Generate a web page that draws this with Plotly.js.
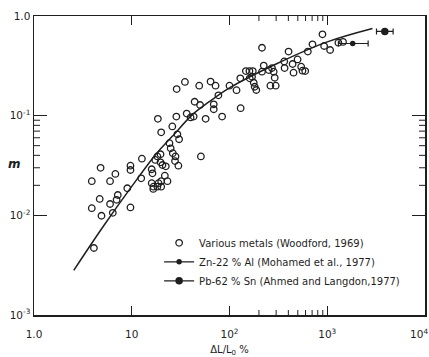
<!DOCTYPE html>
<html>
<head>
<meta charset="utf-8">
<script src="https://cdn.plot.ly/plotly-3.0.1.min.js"></script>
<style>html,body{margin:0;padding:0;background:#fff;}#chart{width:429px;height:357px;}</style>
</head>
<body>
<div id="chart"></div>
<script>
// Various metals (Woodford, 1969)
var metalsX = [3.9,4.8,3.9,4.7,4.9,4.1,6.0,6.8,6.0,6.4,7.0,7.2,9.0,9.7,9.7,9.7,12.7,12.5,16,16.3,16,16.6,17.4,18.5,20,19.7,18.3,19.7,20.6,22.3,21.8,23.2,20,18.3,20,16.7,18.8,26,28.6,24.3,25,26.3,28,27.7,30,29.3,30.5,28.8,35,36.5,40,43,44,49,50,57,51,64,72,69,69,77,84,100,118,129,130,147,160,161,173,170,177,181,188,215,224,215,252,272,283,290,262,297,363,402,366,442,452,497,541,558,595,633,706,893,929,1070,1300,1450];
var metalsY = [0.022,0.030,0.0118,0.0146,0.0099,0.0047,0.022,0.026,0.013,0.0106,0.0143,0.016,0.0187,0.012,0.0315,0.0285,0.037,0.0235,0.029,0.0264,0.021,0.0184,0.036,0.093,0.068,0.041,0.039,0.034,0.032,0.031,0.025,0.022,0.022,0.0194,0.0194,0.0194,0.021,0.078,0.098,0.053,0.047,0.042,0.039,0.035,0.0315,0.065,0.058,0.185,0.218,0.105,0.096,0.098,0.138,0.2,0.128,0.093,0.039,0.22,0.2,0.13,0.116,0.16,0.098,0.2,0.18,0.237,0.119,0.28,0.28,0.237,0.28,0.246,0.214,0.195,0.181,0.48,0.318,0.276,0.287,0.30,0.276,0.24,0.2,0.2,0.35,0.44,0.30,0.33,0.27,0.367,0.31,0.283,0.28,0.44,0.52,0.655,0.50,0.456,0.54,0.55];

// Zn-22% Al (Mohamed et al., 1977)
var znX = [1820];
var znY = [0.53];
var znErrPlus = [800];
var znErrMinus = [520];

// Pb-62% Sn (Ahmed and Langdon, 1977)
var pbX = [3880];
var pbY = [0.70];
var pbErrPlus = [840];
var pbErrMinus = [690];

// Trend curve
var curveX = [2.55,5,10,18,26,42,62,100,300,1000,2900];
var curveY = [0.0028,0.0075,0.0195,0.042,0.062,0.103,0.138,0.19,0.33,0.55,0.75];

// Tick labels (the last one, at the right edge, is placed as a right-aligned label)
var xTickVals = [1,10,100,1000,10000];
var xTickText = ['1.0','10','10<sup>2</sup>','10<sup>3</sup>',''];
var xEdgeLabel = '10<sup>4</sup>';
var xMinorVals = [200,300,400,500,600,700,800,900];
var yTickVals = [0.001,0.01,0.1,1];
var yTickText = ['10<sup>-3</sup>','10<sup>-2</sup>','10<sup>-1</sup>','1.0'];
var yMinorVals = [0.02,0.03,0.04,0.05,0.06,0.07,0.08,0.09];

var ink = '#1e1e1e';
var fontFam = 'DejaVu Sans, sans-serif';

var W = 429, H = 357;
var M = {l: 34, r: 4, t: 16, b: 42};
var plotW = W - M.l - M.r, plotH = H - M.t - M.b;

var traces = [
  {x: curveX, y: curveY, mode: 'lines', line: {color: ink, width: 1.5, shape: 'spline', smoothing: 1}, showlegend: false, hoverinfo: 'skip'},
  {x: metalsX, y: metalsY, mode: 'markers', name: 'Various metals (Woodford, 1969)',
   marker: {symbol: 'circle-open', size: 6.5, color: ink, line: {width: 1.3, color: ink}}},
  {x: znX, y: znY, mode: 'lines+markers', name: 'Zn-22 % Al (Mohamed et al., 1977)',
   line: {color: ink, width: 1.3}, marker: {symbol: 'circle', size: 5.5, color: ink},
   error_x: {type: 'data', symmetric: false, array: znErrPlus, arrayminus: znErrMinus, color: ink, thickness: 1.2, width: 3}},
  {x: pbX, y: pbY, mode: 'lines+markers', name: 'Pb-62 % Sn (Ahmed and Langdon,1977)',
   line: {color: ink, width: 1.3}, marker: {symbol: 'circle', size: 7.5, color: ink},
   error_x: {type: 'data', symmetric: false, array: pbErrPlus, arrayminus: pbErrMinus, color: ink, thickness: 1.2, width: 3}}
];

// minor ticks (inside, on all four sides) placed through the axes' own scales
var shapes = [];
var xl = 5 / plotH, yl = 6 / plotW;
xMinorVals.forEach(function (v) {
  shapes.push({type: 'line', xref: 'x', yref: 'paper', x0: v, x1: v, y0: 0, y1: xl, line: {color: ink, width: 1}});
  shapes.push({type: 'line', xref: 'x', yref: 'paper', x0: v, x1: v, y0: 1, y1: 1 - xl, line: {color: ink, width: 1}});
});
yMinorVals.forEach(function (v) {
  shapes.push({type: 'line', xref: 'paper', yref: 'y', x0: 0, x1: yl, y0: v, y1: v, line: {color: ink, width: 1}});
  shapes.push({type: 'line', xref: 'paper', yref: 'y', x0: 1, x1: 1 - yl, y0: v, y1: v, line: {color: ink, width: 1}});
});

var layout = {
  width: W, height: H,
  margin: M,
  paper_bgcolor: '#fff', plot_bgcolor: '#fff',
  font: {family: fontFam, color: ink, size: 10},
  showlegend: true,
  legend: {x: 0.32, y: 0.29, xanchor: 'left', yanchor: 'top', bgcolor: 'rgba(0,0,0,0)',
           font: {family: fontFam, size: 10, color: ink}, tracegroupgap: 0, itemwidth: 30},
  xaxis: {type: 'log', range: [0, 4], tickmode: 'array', tickvals: xTickVals, ticktext: xTickText,
          ticks: 'inside', ticklen: 9, tickwidth: 1.2, tickcolor: ink, ticklabelstandoff: 9,
          showline: true, linecolor: ink, linewidth: 1.5, mirror: 'ticks', showgrid: false, zeroline: false,
          tickfont: {family: fontFam, size: 10.5, color: ink},
          title: {text: '\u0394L/L<sub>0</sub> %', font: {family: fontFam, size: 10, color: ink}, standoff: 8}},
  yaxis: {type: 'log', range: [-3, 0], tickmode: 'array', tickvals: yTickVals, ticktext: yTickText,
          ticks: 'inside', ticklen: 13, tickwidth: 1.2, tickcolor: ink, ticklabeloverflow: 'allow',
          showline: true, linecolor: ink, linewidth: 1.5, mirror: 'ticks', showgrid: false, zeroline: false,
          tickfont: {family: fontFam, size: 10.5, color: ink}},
  shapes: shapes,
  annotations: [
    {text: '<b><i>m</i></b>', xref: 'paper', yref: 'paper', x: -0.072, y: 0.505, showarrow: false,
     font: {family: fontFam, size: 12, color: ink}},
    {text: xEdgeLabel, xref: 'x', yref: 'paper', x: Math.log10(xTickVals[4]), y: 0, xanchor: 'right', yanchor: 'top',
     xshift: 4, yshift: -11, showarrow: false, borderpad: 0, font: {family: fontFam, size: 10.5, color: ink}}
  ]
};

Plotly.newPlot('chart', traces, layout, {displayModeBar: false, staticPlot: true});
</script>
</body>
</html>
